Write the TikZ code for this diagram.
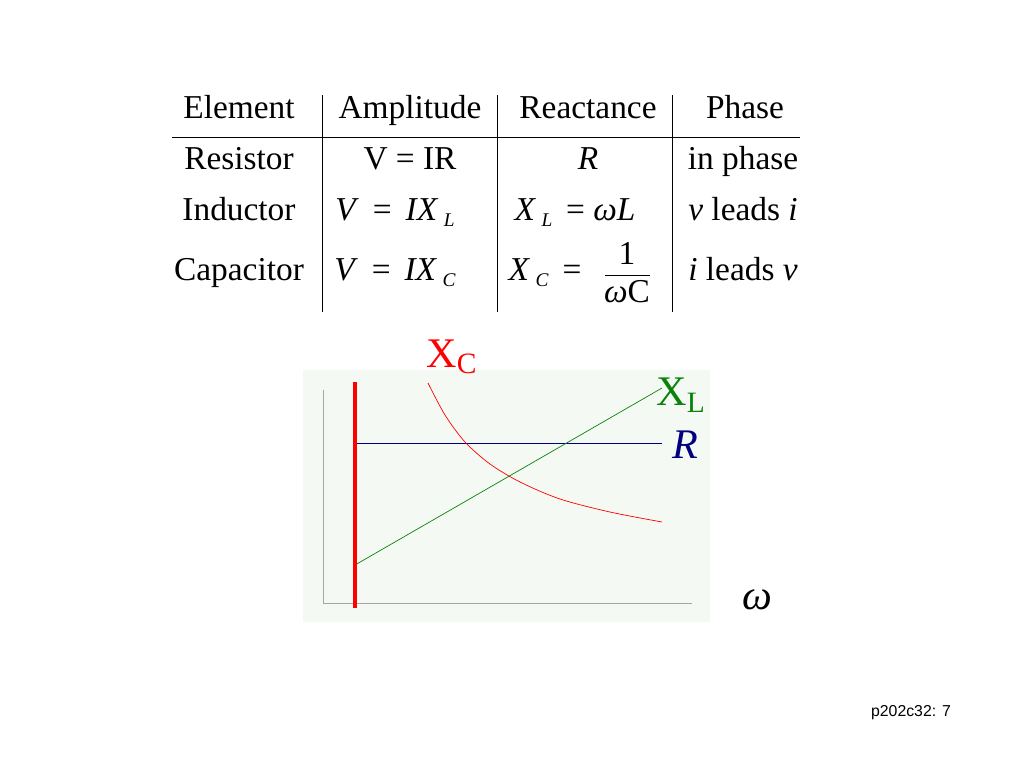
\documentclass[tikz,border=0pt]{standalone}
\usepackage{fontspec}
\setmainfont{Liberation Serif}
\setsansfont{Liberation Sans}
\usetikzlibrary{positioning}
\tikzset{cell/.style={font=\fontsize{19}{22}\selectfont, inner sep=0pt, text height=13pt, text depth=4pt},
  lbl/.style={font=\fontsize{24}{28}\selectfont, inner sep=0pt}}
\newcommand{\sub}[1]{\raisebox{-0.35ex}{\fontsize{11}{13}\selectfont\textit{#1}}}
\definecolor{bgpanel}{RGB}{244,250,243}
\definecolor{xlgreen}{RGB}{10,130,10}
\begin{document}
\begin{tikzpicture}[x=0.02cm,y=-0.02cm]
	\useasboundingbox (0,0) rectangle (1024,768);
	% table
	\draw (172,137) -- (800,137);
	\foreach \x in {322,497,672} \draw (\x,95) -- (\x,312);
	\node[cell] (hElem) at (239,111) {Element};
	\node[cell] (hAmp) at (410,111) {Amplitude};
	\node[cell] (hReac) at (588,111) {Reactance};
	\node[cell] (hPhase) at (745,111) {Phase};
	\node[cell] (res) at (239,162) {Resistor};
	\node[cell] (resAmp) at (410,162) {V = IR};
	\node[cell] (resReac) at (588,162) {\textit{R}};
	\node[cell] (resPhase) at (743,162) {in phase};
	\node[cell] (ind) at (239,213) {Inductor};
	\node[cell] (indAmp) at (395,213) {\textit{V}\, = \,\textit{IX}\,\sub{L}};
	\node[cell] (indReac) at (575,213) {\textit{X}\,\sub{L}\,\ = \textit{ωL}};
	\node[cell] (indPhase) at (743,213) {\textit{v} leads \textit{i}};
	\node[cell] (cap) at (239,273) {Capacitor};
	\node[cell] (capAmp) at (395,273) {\textit{V}\, = \,\textit{IX}\,\sub{C}};
	\node[cell] (capEq) at (545,273) {\textit{X}\,\sub{C}\,\ =};
	\draw (605,275) -- (650,275);
	\node[cell] (capNum) at (627,257) {1};
	\node[cell] (capDen) at (627,295) {\textit{ω}C};
	\node[cell] (capPhase) at (743,273) {\textit{i} leads \textit{v}};
	% graph
	\fill[bgpanel] (303,370) rectangle (710,622);
	\draw[gray!70] (323,390) -- (323,603) -- (692,603);
	\draw[blue!50!black] (355,443) -- (662,443);
	\draw[xlgreen] (355,565) -- (662,388);
	\draw[red] plot[smooth] coordinates {(428,383) (445,415) (465,442) (490,464) (520,482) (560,499) (610,512) (662,522)};
	\draw[red, line width=2.2pt] (355,382) -- (355,608);
	\node[lbl, red] (xc) at (452,357) {X\textsubscript{C}};
	\node[lbl, xlgreen] (xl) at (681,395) {X\textsubscript{L}};
	\node[lbl, blue!50!black] (rl) at (685,445) {\textit{R}};
	\node[lbl] (om) at (757,600) {\textit{ω}};
	\node[font=\sffamily\fontsize{9}{11}\selectfont, inner sep=0pt] (pg) at (911,713) {p202c32: 7};
\end{tikzpicture}
\end{document}
